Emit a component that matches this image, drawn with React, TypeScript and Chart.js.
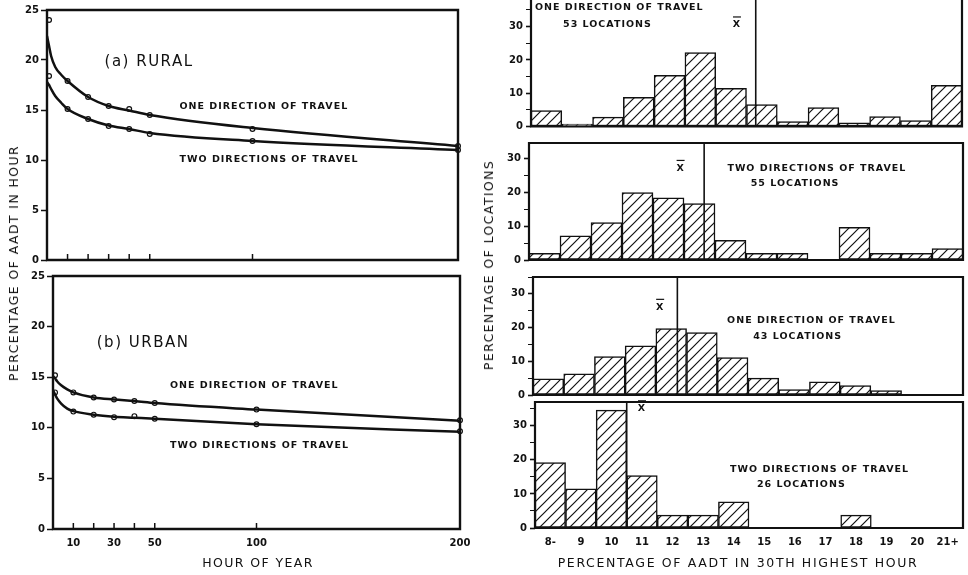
import React, { useEffect, useRef } from "react";
import { Chart, registerables } from "chart.js";
Chart.register(...registerables);

// ---------- Left panels: percentage of AADT vs hour of year ----------
const hourTicks = [10, 20, 30, 40, 50, 100, 200];
const hourLabels = [10, 30, 50, 100, 200];
const observedHours = [1, 10, 20, 30, 40, 50, 100, 200];
const ruralOneObs = [24.0, 17.9, 16.3, 15.4, 15.1, 14.5, 13.1, 11.4];
const ruralTwoObs = [18.4, 15.1, 14.1, 13.4, 13.1, 12.6, 11.9, 11.0];
const urbanOneObs = [15.2, 13.5, 13.0, 12.8, 12.65, 12.45, 11.8, 10.75];
const urbanTwoObs = [13.5, 11.6, 11.3, 11.05, 11.15, 10.9, 10.35, 9.65];
const curveHours = [0, 1, 2, 4, 7, 10, 20, 30, 40, 50, 100, 200];
const ruralOneCurve = [22.4, 21.4, 20.4, 19.3, 18.5, 17.9, 16.3, 15.4, 14.95, 14.5, 13.2, 11.4];
const ruralTwoCurve = [17.8, 17.5, 17.1, 16.4, 15.7, 15.1, 14.1, 13.45, 13.1, 12.7, 11.9, 11.0];
const urbanOneCurve = [15.1, 14.9, 14.6, 14.2, 13.8, 13.5, 13.0, 12.8, 12.65, 12.45, 11.8, 10.7];
const urbanTwoCurve = [13.7, 13.3, 12.9, 12.4, 11.9, 11.65, 11.3, 11.1, 11.0, 10.9, 10.35, 9.6];
const pctTicksLeft = [0, 5, 10, 15, 20, 25];

// ---------- Right panels: histograms of % AADT in 30th highest hour ----------
const bins = ["8-", "9", "10", "11", "12", "13", "14", "15", "16", "17", "18", "19", "20", "21+"];
const firstBinValue = 8;
const ruralOneHist = [4.8, 0.7, 2.8, 8.8, 15.4, 22.2, 11.5, 6.6, 1.5, 5.7, 1.1, 3.0, 1.8, 12.4];
const ruralTwoHist = [2.0, 7.1, 11.0, 19.9, 18.3, 16.6, 5.8, 2.0, 2.0, 0, 9.6, 2.0, 2.0, 3.4];
const urbanOneHist = [4.8, 6.3, 11.4, 14.6, 19.7, 18.5, 11.1, 5.0, 1.6, 3.9, 2.8, 1.3, 0, 0];
const urbanTwoHist = [19.2, 11.5, 34.6, 15.4, 3.8, 3.8, 7.7, 0, 0, 0, 3.8, 0, 0, 0];
const histMeans = [14.8, 13.15, 12.2, 10.5];
const histLocations = [53, 55, 43, 26];

const INK = "#111";
const SMALL = "bold 9.5px 'DejaVu Sans'";
const BIG = "15px 'DejaVu Sans'";
const TICKFONT = { family: "'DejaVu Sans'", size: 10, weight: "bold" as const };

type Note = { text: string; x: number; y: number; font?: string; spacing?: string; bar?: boolean; align?: CanvasTextAlign };

const decorPlugin = {
  id: "decor",
  afterDatasetsDraw(chart: any, _args: any, opts: any) {
    const { ctx, chartArea: a } = chart;
    const xs = chart.scales.x;
    const ys = chart.scales.y;
    ctx.save();
    ctx.strokeStyle = INK;
    ctx.fillStyle = INK;
    if (opts.mean != null) {
      const px = xs.getPixelForValue(opts.mean - firstBinValue);
      ctx.lineWidth = 1.6;
      ctx.beginPath();
      ctx.moveTo(px, a.top);
      ctx.lineTo(px, a.bottom);
      ctx.stroke();
    }
    if (opts.innerTicks) {
      ctx.lineWidth = 1.5;
      xs.ticks.forEach((t: any) => {
        const px = xs.getPixelForValue(t.value);
        ctx.beginPath();
        ctx.moveTo(px, a.bottom);
        ctx.lineTo(px, a.bottom - 6);
        ctx.stroke();
      });
    }
    ctx.lineWidth = opts.frameWidth ?? 2.2;
    ctx.beginPath();
    if (opts.noTop) {
      ctx.moveTo(a.left, a.top);
      ctx.lineTo(a.left, a.bottom);
      ctx.lineTo(a.right, a.bottom);
      ctx.lineTo(a.right, a.top);
    } else {
      ctx.rect(a.left, a.top, a.right - a.left, a.bottom - a.top);
    }
    ctx.stroke();
    (opts.notes || []).forEach((n: Note) => {
      const px = xs.getPixelForValue(n.x);
      const py = ys.getPixelForValue(n.y);
      ctx.font = n.font || SMALL;
      (ctx as any).letterSpacing = n.spacing || "1px";
      ctx.textAlign = n.align || "left";
      ctx.textBaseline = "middle";
      ctx.fillText(n.text, px, py);
      if (n.bar) {
        ctx.lineWidth = 1.2;
        ctx.beginPath();
        ctx.moveTo(px - 4, py - 8);
        ctx.lineTo(px + 4, py - 8);
        ctx.stroke();
      }
    });
    ctx.restore();
  },
};

function makeHatch(): CanvasPattern | string {
  const c = document.createElement("canvas");
  c.width = 10;
  c.height = 10;
  const g = c.getContext("2d");
  if (!g) return "#fff";
  g.fillStyle = "#fff";
  g.fillRect(0, 0, 10, 10);
  g.strokeStyle = INK;
  g.lineWidth = 1.2;
  g.beginPath();
  g.moveTo(0, 10);
  g.lineTo(10, 0);
  g.moveTo(-2, 2);
  g.lineTo(2, -2);
  g.moveTo(8, 12);
  g.lineTo(12, 8);
  g.stroke();
  return g.createPattern(c, "repeat") || "#fff";
}

function leftConfig(one: number[], two: number[], oneObs: number[], twoObs: number[], opt: any) {
  const curve = (vals: number[]) => curveHours.map((h, i) => ({ x: h, y: vals[i] }));
  const obs = (vals: number[]) => observedHours.map((h, i) => ({ x: h, y: vals[i] }));
  const lineDs = (vals: number[]) => ({
    data: curve(vals),
    borderColor: INK,
    borderWidth: 2.5,
    pointRadius: 0,
    tension: 0.4,
    cubicInterpolationMode: "monotone",
    showLine: true,
  });
  const ptDs = (vals: number[]) => ({
    data: obs(vals),
    showLine: false,
    pointRadius: 2.4,
    pointBackgroundColor: "#fff",
    pointBorderColor: INK,
    pointBorderWidth: 1.2,
    clip: false,
  });
  return {
    type: "line",
    data: { datasets: [lineDs(one), lineDs(two), ptDs(oneObs), ptDs(twoObs)] },
    options: {
      animation: false,
      responsive: false,
      events: [],
      layout: { padding: opt.padding },
      plugins: { legend: { display: false }, tooltip: { enabled: false }, decor: { innerTicks: true, notes: opt.notes, frameWidth: 2.4 } },
      scales: {
        x: {
          type: "linear",
          min: 0,
          max: 200,
          afterBuildTicks: (s: any) => {
            s.ticks = hourTicks.map((v) => ({ value: v }));
          },
          ticks: {
            display: opt.showX,
            autoSkip: false,
            maxRotation: 0,
            padding: 8,
            color: INK,
            font: TICKFONT,
            callback: (v: number) => (hourLabels.includes(v) ? String(v) : ""),
          },
          grid: { display: false, drawTicks: false },
          border: { display: false },
          afterFit: (s: any) => {
            s.height = opt.xh;
            s.paddingLeft = 0;
            s.paddingRight = 0;
          },
        },
        y: {
          min: 0,
          max: 25,
          afterBuildTicks: (s: any) => {
            s.ticks = pctTicksLeft.map((v) => ({ value: v }));
          },
          ticks: { color: INK, font: TICKFONT, padding: 2 },
          grid: { drawOnChartArea: false, drawTicks: true, tickLength: 6, color: INK, tickWidth: 1.5 },
          border: { display: false },
          afterFit: (s: any) => {
            s.width = opt.yw;
            s.paddingTop = 0;
            s.paddingBottom = 0;
          },
        },
      },
    },
  };
}

function histConfig(values: number[], mean: number, hatch: any, opt: any) {
  return {
    type: "bar",
    data: {
      labels: bins,
      datasets: [
        {
          data: values,
          backgroundColor: hatch,
          borderColor: INK,
          borderWidth: 1.5,
          borderSkipped: false,
          barPercentage: 1,
          categoryPercentage: 1,
        },
      ],
    },
    options: {
      animation: false,
      responsive: false,
      events: [],
      layout: { padding: opt.padding },
      plugins: {
        legend: { display: false },
        tooltip: { enabled: false },
        decor: { mean, notes: opt.notes, noTop: opt.noTop, frameWidth: 2.2 },
      },
      scales: {
        x: {
          type: "category",
          offset: true,
          ticks: { display: opt.showX, autoSkip: false, maxRotation: 0, padding: 8, color: INK, font: TICKFONT },
          grid: { display: false, drawTicks: false },
          border: { display: false },
          afterFit: (s: any) => {
            s.height = opt.xh;
            s.paddingLeft = 0;
            s.paddingRight = 0;
          },
        },
        y: {
          min: 0,
          max: opt.ymax,
          ticks: {
            stepSize: 5,
            includeBounds: false,
            color: INK,
            font: TICKFONT,
            padding: 3,
            callback: (v: number) => (v % 10 === 0 ? String(v) : ""),
          },
          grid: {
            drawOnChartArea: false,
            drawTicks: true,
            tickLength: 5,
            color: INK,
            tickWidth: (c: any) => (c.tick && c.tick.value % 10 === 0 ? 1.6 : 1),
          },
          border: { display: false },
          afterFit: (s: any) => {
            s.width = opt.yw;
            s.paddingTop = 0;
            s.paddingBottom = 0;
          },
        },
      },
    },
  };
}

function ChartBox({ left, top, width, height, make }: { left: number; top: number; width: number; height: number; make: () => any }) {
  const ref = useRef<HTMLCanvasElement | null>(null);
  useEffect(() => {
    if (!ref.current) return;
    const chart = new Chart(ref.current, make() as any);
    return () => chart.destroy();
  }, []);
  return (
    <canvas
      ref={ref}
      width={width}
      height={height}
      style={{ position: "absolute", left, top, width, height }}
    />
  );
}

const titleStyle: React.CSSProperties = {
  position: "absolute",
  whiteSpace: "nowrap",
  fontFamily: "'DejaVu Sans'",
  fontSize: 12.5,
  letterSpacing: "1.4px",
  color: INK,
  lineHeight: "14px",
};

export default function App() {
  Chart.register(decorPlugin as any);
  const hatchRef = useRef<any>(null);
  const hatch = () => {
    if (!hatchRef.current) hatchRef.current = makeHatch();
    return hatchRef.current;
  };
  const dirOne = "ONE DIRECTION OF TRAVEL";
  const dirTwo = "TWO DIRECTIONS OF TRAVEL";
  return (
    <div style={{ position: "absolute", left: 0, top: 0, width: 968, height: 575, background: "#fff", overflow: "hidden" }}>
      <ChartBox
        left={0}
        top={0}
        width={472}
        height={270}
        make={() =>
          leftConfig(ruralOneCurve, ruralTwoCurve, ruralOneObs, ruralTwoObs, {
            padding: { top: 10, right: 14, left: 0, bottom: 0 },
            yw: 47,
            xh: 10,
            showX: false,
            notes: [
              { text: "(a) RURAL", x: 28, y: 19.8, font: BIG, spacing: "1.5px" },
              { text: dirOne, x: 64.5, y: 15.3 },
              { text: dirTwo, x: 64.5, y: 10.0 },
            ],
          })
        }
      />
      <ChartBox
        left={0}
        top={266}
        width={476}
        height={300}
        make={() =>
          leftConfig(urbanOneCurve, urbanTwoCurve, urbanOneObs, urbanTwoObs, {
            padding: { top: 10, right: 16, left: 0, bottom: 0 },
            yw: 53,
            xh: 37,
            showX: true,
            notes: [
              { text: "(b) URBAN", x: 21.5, y: 18.4, font: BIG, spacing: "1.5px" },
              { text: dirOne, x: 57.5, y: 14.2 },
              { text: dirTwo, x: 57.5, y: 8.2 },
            ],
          })
        }
      />
      <ChartBox
        left={492}
        top={0}
        width={476}
        height={135}
        make={() =>
          histConfig(ruralOneHist, histMeans[0], hatch(), {
            padding: { top: 0, right: 6, left: 0, bottom: 0 },
            yw: 39,
            xh: 8.5,
            ymax: 38,
            noTop: true,
            showX: false,
            notes: [
              { text: dirOne, x: -0.37, y: 35.6 },
              { text: `${histLocations[0]} LOCATIONS`, x: 0.54, y: 30.5 },
              { text: "X", x: 6.19, y: 30.5, align: "center", bar: true },
            ],
          })
        }
      />
      <ChartBox
        left={492}
        top={135}
        width={476}
        height={130}
        make={() =>
          histConfig(ruralTwoHist, histMeans[1], hatch(), {
            padding: { top: 8, right: 5, left: 0, bottom: 0 },
            yw: 37,
            xh: 5,
            ymax: 34.5,
            showX: false,
            notes: [
              { text: dirTwo, x: 5.9, y: 27 },
              { text: `${histLocations[1]} LOCATIONS`, x: 6.65, y: 22.6 },
              { text: "X", x: 4.39, y: 27, align: "center", bar: true },
            ],
          })
        }
      />
      <ChartBox
        left={492}
        top={268}
        width={476}
        height={132}
        make={() =>
          histConfig(urbanOneHist, histMeans[2], hatch(), {
            padding: { top: 9, right: 5, left: 0, bottom: 0 },
            yw: 41,
            xh: 5,
            ymax: 35,
            showX: false,
            notes: [
              { text: dirOne, x: 5.82, y: 22 },
              { text: `${histLocations[2]} LOCATIONS`, x: 6.67, y: 17.3 },
              { text: "X", x: 3.64, y: 26, align: "center", bar: true },
            ],
          })
        }
      />
      <ChartBox
        left={492}
        top={395}
        width={476}
        height={180}
        make={() =>
          histConfig(urbanTwoHist, histMeans[3], hatch(), {
            padding: { top: 7, right: 5, left: 0, bottom: 0 },
            yw: 43,
            xh: 47,
            ymax: 37,
            showX: true,
            notes: [
              { text: dirTwo, x: 5.88, y: 17.2 },
              { text: `${histLocations[3]} LOCATIONS`, x: 6.76, y: 12.7 },
              { text: "X", x: 3.0, y: 35, align: "center", bar: true },
            ],
          })
        }
      />
      <div style={{ ...titleStyle, left: 14, top: 263, transform: "translate(-50%, -50%) rotate(-90deg)" }}>
        PERCENTAGE OF AADT IN HOUR
      </div>
      <div style={{ ...titleStyle, left: 258, top: 563, transform: "translate(-50%, -50%)" }}>HOUR OF YEAR</div>
      <div style={{ ...titleStyle, left: 489, top: 265, transform: "translate(-50%, -50%) rotate(-90deg)" }}>
        PERCENTAGE OF LOCATIONS
      </div>
      <div style={{ ...titleStyle, left: 738, top: 563, letterSpacing: "1.65px", transform: "translate(-50%, -50%)" }}>
        PERCENTAGE OF AADT IN 30TH HIGHEST HOUR
      </div>
    </div>
  );
}
